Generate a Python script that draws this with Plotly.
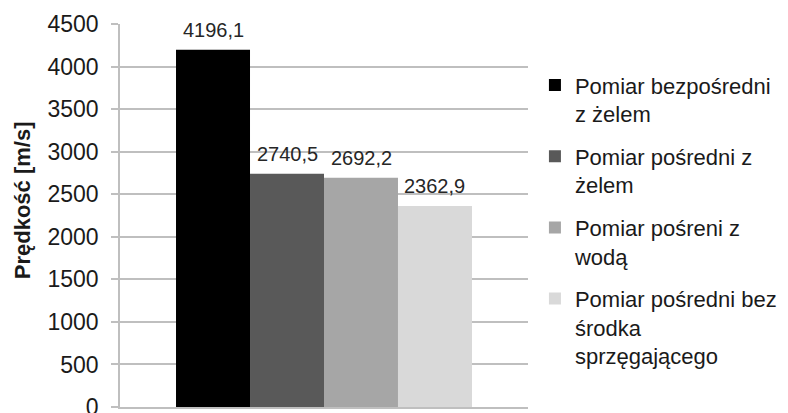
import plotly.graph_objects as go

# Measured ultrasonic velocity for each measurement method
series_names = [
    "Pomiar bezpośredni<br>z żelem",
    "Pomiar pośredni z<br>żelem",
    "Pomiar pośreni z<br>wodą",
    "Pomiar pośredni bez<br>środka<br>sprzęgającego",
]
velocities = [4196.1, 2740.5, 2692.2, 2362.9]
bar_colors = ["#000000", "#595959", "#a6a6a6", "#d9d9d9"]
y_ticks = [0, 500, 1000, 1500, 2000, 2500, 3000, 3500, 4000, 4500]
y_title = "Prędkość [m/s]"

FONT = "Liberation Sans, Arial, sans-serif"

fig = go.Figure()
for i, (name, v, c) in enumerate(zip(series_names, velocities, bar_colors)):
    fig.add_trace(go.Bar(
        x=[i], y=[v], width=1, name=name,
        marker=dict(color=c, line=dict(width=0)),
        legendgroup=f"g{i}",
        hoverinfo="skip",
    ))
    # value label above each bar
    fig.add_annotation(
        x=i, y=v, xref="x", yref="y",
        text=f"{v:.1f}".replace(".", ","),
        showarrow=False, yanchor="bottom", yshift=7,
        font=dict(family=FONT, size=20, color="#262626"),
    )

# rotated axis title
fig.add_annotation(
    x=-0.24, y=0.54, xref="paper", yref="paper",
    text=f"<b>{y_title}</b>", textangle=-90, showarrow=False,
    xanchor="center", yanchor="middle",
    font=dict(family=FONT, size=22, color="#1a1a1a"),
)

fig.update_layout(
    width=788, height=413,
    margin=dict(l=120, r=260, t=24, b=6, autoexpand=False),
    paper_bgcolor="white", plot_bgcolor="white",
    barmode="overlay",
    showlegend=True,
    legend=dict(
        x=1.017, xanchor="left", y=0.895, yanchor="top",
        valign="top", traceorder="grouped", tracegroupgap=11,
        font=dict(family=FONT, size=22, color="#1a1a1a"),
        bgcolor="rgba(0,0,0,0)",
    ),
    xaxis=dict(
        range=[-1.257, 4.257], showticklabels=False, ticks="",
        showgrid=False, zeroline=False, showline=True,
        linecolor="#bfbfbf", linewidth=1.5, fixedrange=True,
        automargin=False,
    ),
    yaxis=dict(
        range=[0, 4500], tickvals=y_ticks,
        ticktext=[str(t) for t in y_ticks],
        showgrid=True, gridcolor="#bfbfbf", gridwidth=1.5,
        zeroline=False, showline=True, linecolor="#bfbfbf", linewidth=1.5,
        ticks="outside", ticklen=7, tickcolor="#bfbfbf", tickwidth=1.5,
        ticklabelstandoff=8, ticklabeloverflow="allow",
        tickfont=dict(family=FONT, size=23, color="#1a1a1a"),
        fixedrange=True, automargin=False,
    ),
)

fig.write_html("out.html")
